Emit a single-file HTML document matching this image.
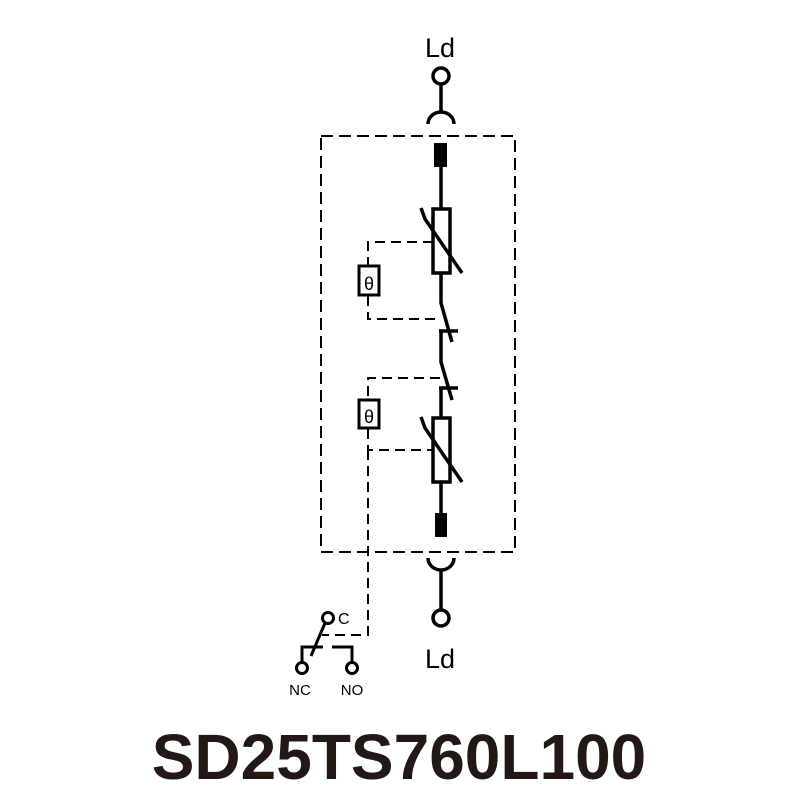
<!DOCTYPE html>
<html><head><meta charset="utf-8"><style>
html,body{margin:0;padding:0;background:#fff;}
svg{display:block;}
</style></head><body>
<svg width="800" height="800" viewBox="0 0 800 800" xmlns="http://www.w3.org/2000/svg">
<g fill="none" stroke="#000">
  <!-- dashed box -->
  <rect x="321" y="136" width="194" height="416" stroke-width="2" stroke-dasharray="12,6"/>
  <!-- thermal dashed links -->
  <g stroke-width="2" stroke-dasharray="10,6">
    <polyline points="433,242 368,242 368,265"/>
    <polyline points="368,296 368,319 440,319"/>
    <polyline points="440,378 368,378 368,399"/>
    <polyline points="368,429 368,450 433,450"/>
    <polyline points="368,450 368,635 322,635"/>
  </g>
  <!-- top terminal -->
  <g stroke-width="3.5">
    <circle cx="441" cy="76" r="8"/>
    <line x1="441" y1="84" x2="441" y2="113"/>
    <path d="M428,124 A13,12 0 0 1 454,124"/>
    <line x1="441" y1="167" x2="441" y2="209"/>
    <rect x="433" y="209" width="17" height="64"/>
    <polyline points="421,208 425,219 462,273"/>
    <polyline points="441,273 441,303 452,342"/>
    <line x1="439" y1="331" x2="458" y2="331"/>
    <polyline points="441,331 441,362 452,400"/>
    <line x1="439" y1="388" x2="458" y2="388"/>
    <line x1="441" y1="388" x2="441" y2="418"/>
    <rect x="433" y="418" width="17" height="64"/>
    <polyline points="421,417 425,428 462,482"/>
    <line x1="441" y1="482" x2="441" y2="513"/>
    <path d="M428,558 A13,12 0 0 0 454,558"/>
    <line x1="441" y1="570" x2="441" y2="610"/>
    <circle cx="441" cy="618" r="8"/>
  </g>
  <rect x="434" y="143" width="13" height="24" fill="#000" stroke="none"/>
  <rect x="435" y="513" width="12" height="24" fill="#000" stroke="none"/>
  <!-- theta boxes -->
  <rect x="359" y="266" width="20" height="29" stroke-width="3"/>
  <rect x="359" y="400" width="20" height="28" stroke-width="3"/>
  <!-- relay contacts -->
  <g stroke-width="3">
    <circle cx="328" cy="618" r="5.5"/>
    <line x1="325" y1="623" x2="311" y2="656"/>
    <polyline points="302,663 302,647 323,647"/>
    <polyline points="332,647 352,647 352,663"/>
    <circle cx="302" cy="668" r="5.5"/>
    <circle cx="352" cy="668" r="5.5"/>
  </g>
</g>
<g font-family="Liberation Sans, sans-serif" fill="#000">
  <text x="440" y="57" font-size="27" text-anchor="middle">Ld</text>
  <text x="440" y="668" font-size="27" text-anchor="middle">Ld</text>
  <text x="369" y="290" font-size="18" text-anchor="middle">θ</text>
  <text x="369" y="423" font-size="18" text-anchor="middle">θ</text>
  <text x="338" y="624" font-size="16">C</text>
  <text x="300" y="695" font-size="15" text-anchor="middle">NC</text>
  <text x="352" y="695" font-size="15" text-anchor="middle">NO</text>
  <text x="399" y="779" font-size="64" font-weight="bold" text-anchor="middle" fill="#231815">SD25TS760L100</text>
</g>
</svg>
</body></html>
